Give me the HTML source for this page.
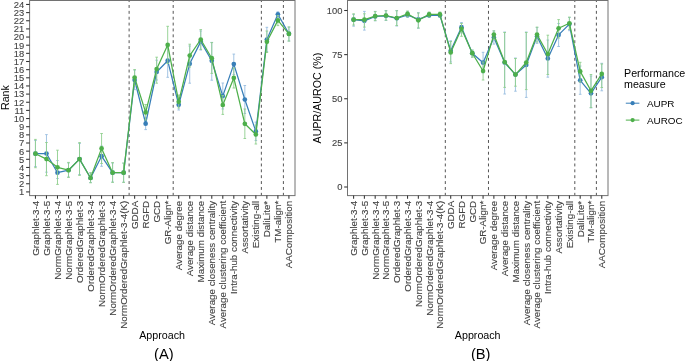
<!DOCTYPE html>
<html><head><meta charset="utf-8"><style>
html,body{margin:0;padding:0;background:#fff;width:685px;height:361px;overflow:hidden;}
svg{display:block;will-change:transform;}
text{font-family:"Liberation Sans",sans-serif;}
.tk{font-size:9.4px;fill:#444444;stroke:#444444;stroke-width:0.12px;}
.tx{font-size:9.8px;fill:#444444;stroke:#444444;stroke-width:0.12px;}
.tt{font-size:10.7px;fill:#000;}
.lg{font-size:9.9px;fill:#000;}
.pl{font-size:14.7px;fill:#000;}
</style></head><body>
<svg width="685" height="361" viewBox="0 0 685 361">
<rect width="685" height="361" fill="#fff"/>
<line x1="129.12" y1="-0.87" x2="129.12" y2="195.60" stroke="#555" stroke-width="1" stroke-dasharray="2.93 2.94"/>
<line x1="173.20" y1="-0.87" x2="173.20" y2="195.60" stroke="#555" stroke-width="1" stroke-dasharray="2.93 2.94"/>
<line x1="261.36" y1="-0.87" x2="261.36" y2="195.60" stroke="#555" stroke-width="1" stroke-dasharray="2.93 2.94"/>
<line x1="283.40" y1="-0.87" x2="283.40" y2="195.60" stroke="#555" stroke-width="1" stroke-dasharray="2.93 2.94"/>
<path d="M34.15 140.50H36.75M35.45 140.50V166.50M34.15 166.50H36.75" stroke="#98bde0" stroke-width="0.9" fill="none"/>
<path d="M45.17 134.60H47.77M46.47 134.60V172.20M45.17 172.20H47.77" stroke="#98bde0" stroke-width="0.9" fill="none"/>
<path d="M56.19 160.50H58.79M57.49 160.50V178.50M56.19 178.50H58.79" stroke="#98bde0" stroke-width="0.9" fill="none"/>
<path d="M67.21 163.00H69.81M68.51 163.00V177.00M67.21 177.00H69.81" stroke="#98bde0" stroke-width="0.9" fill="none"/>
<path d="M78.23 143.50H80.83M79.53 143.50V174.50M78.23 174.50H80.83" stroke="#98bde0" stroke-width="0.9" fill="none"/>
<path d="M89.25 173.00H91.85M90.55 173.00V182.50M89.25 182.50H91.85" stroke="#98bde0" stroke-width="0.9" fill="none"/>
<path d="M100.27 146.00H102.87M101.57 146.00V166.30M100.27 166.30H102.87" stroke="#98bde0" stroke-width="0.9" fill="none"/>
<path d="M111.29 163.00H113.89M112.59 163.00V182.00M111.29 182.00H113.89" stroke="#98bde0" stroke-width="0.9" fill="none"/>
<path d="M122.31 163.20H124.91M123.61 163.20V182.20M122.31 182.20H124.91" stroke="#98bde0" stroke-width="0.9" fill="none"/>
<path d="M133.33 70.10H135.93M134.63 70.10V89.70M133.33 89.70H135.93" stroke="#98bde0" stroke-width="0.9" fill="none"/>
<path d="M144.35 117.50H146.95M145.65 117.50V129.60M144.35 129.60H146.95" stroke="#98bde0" stroke-width="0.9" fill="none"/>
<path d="M155.37 60.20H157.97M156.67 60.20V80.00M155.37 80.00H157.97" stroke="#98bde0" stroke-width="0.9" fill="none"/>
<path d="M166.39 44.00H168.99M167.69 44.00V77.30M166.39 77.30H168.99" stroke="#98bde0" stroke-width="0.9" fill="none"/>
<path d="M177.41 98.00H180.01M178.71 98.00V110.00M177.41 110.00H180.01" stroke="#98bde0" stroke-width="0.9" fill="none"/>
<path d="M188.43 46.00H191.03M189.73 46.00V83.20M188.43 83.20H191.03" stroke="#98bde0" stroke-width="0.9" fill="none"/>
<path d="M199.45 31.00H202.05M200.75 31.00V50.00M199.45 50.00H202.05" stroke="#98bde0" stroke-width="0.9" fill="none"/>
<path d="M210.47 42.40H213.07M211.77 42.40V80.20M210.47 80.20H213.07" stroke="#98bde0" stroke-width="0.9" fill="none"/>
<path d="M221.49 83.00H224.09M222.79 83.00V109.00M221.49 109.00H224.09" stroke="#98bde0" stroke-width="0.9" fill="none"/>
<path d="M232.51 54.10H235.11M233.81 54.10V74.50M232.51 74.50H235.11" stroke="#98bde0" stroke-width="0.9" fill="none"/>
<path d="M243.53 85.50H246.13M244.83 85.50V113.50M243.53 113.50H246.13" stroke="#98bde0" stroke-width="0.9" fill="none"/>
<path d="M254.55 122.10H257.15M255.85 122.10V140.50M254.55 140.50H257.15" stroke="#98bde0" stroke-width="0.9" fill="none"/>
<path d="M265.57 27.30H268.17M266.87 27.30V51.50M265.57 51.50H268.17" stroke="#98bde0" stroke-width="0.9" fill="none"/>
<path d="M276.59 11.80H279.19M277.89 11.80V17.50M276.59 17.50H279.19" stroke="#98bde0" stroke-width="0.9" fill="none"/>
<path d="M287.61 27.00H290.21M288.91 27.00V41.00M287.61 41.00H290.21" stroke="#98bde0" stroke-width="0.9" fill="none"/>
<polyline points="35.45,153.70 46.47,153.50 57.49,172.70 68.51,170.20 79.53,159.10 90.55,178.00 101.57,156.20 112.59,172.70 123.61,172.70 134.63,80.00 145.65,123.70 156.67,72.00 167.69,60.70 178.71,104.80 189.73,63.80 200.75,41.60 211.77,60.80 222.79,96.10 233.81,64.10 244.83,99.50 255.85,131.40 266.87,39.50 277.89,14.30 288.91,33.70" stroke="#377EB8" stroke-width="1.25" fill="none" stroke-linejoin="round"/>
<circle cx="35.45" cy="153.70" r="2.35" fill="#377EB8"/>
<circle cx="46.47" cy="153.50" r="2.35" fill="#377EB8"/>
<circle cx="57.49" cy="172.70" r="2.35" fill="#377EB8"/>
<circle cx="68.51" cy="170.20" r="2.35" fill="#377EB8"/>
<circle cx="79.53" cy="159.10" r="2.35" fill="#377EB8"/>
<circle cx="90.55" cy="178.00" r="2.35" fill="#377EB8"/>
<circle cx="101.57" cy="156.20" r="2.35" fill="#377EB8"/>
<circle cx="112.59" cy="172.70" r="2.35" fill="#377EB8"/>
<circle cx="123.61" cy="172.70" r="2.35" fill="#377EB8"/>
<circle cx="134.63" cy="80.00" r="2.35" fill="#377EB8"/>
<circle cx="145.65" cy="123.70" r="2.35" fill="#377EB8"/>
<circle cx="156.67" cy="72.00" r="2.35" fill="#377EB8"/>
<circle cx="167.69" cy="60.70" r="2.35" fill="#377EB8"/>
<circle cx="178.71" cy="104.80" r="2.35" fill="#377EB8"/>
<circle cx="189.73" cy="63.80" r="2.35" fill="#377EB8"/>
<circle cx="200.75" cy="41.60" r="2.35" fill="#377EB8"/>
<circle cx="211.77" cy="60.80" r="2.35" fill="#377EB8"/>
<circle cx="222.79" cy="96.10" r="2.35" fill="#377EB8"/>
<circle cx="233.81" cy="64.10" r="2.35" fill="#377EB8"/>
<circle cx="244.83" cy="99.50" r="2.35" fill="#377EB8"/>
<circle cx="255.85" cy="131.40" r="2.35" fill="#377EB8"/>
<circle cx="266.87" cy="39.50" r="2.35" fill="#377EB8"/>
<circle cx="277.89" cy="14.30" r="2.35" fill="#377EB8"/>
<circle cx="288.91" cy="33.70" r="2.35" fill="#377EB8"/>
<path d="M34.15 139.40H36.75M35.45 139.40V167.70M34.15 167.70H36.75" stroke="#8fcf8d" stroke-width="0.9" fill="none"/>
<path d="M45.17 142.50H47.77M46.47 142.50V175.70M45.17 175.70H47.77" stroke="#8fcf8d" stroke-width="0.9" fill="none"/>
<path d="M56.19 150.20H58.79M57.49 150.20V184.40M56.19 184.40H58.79" stroke="#8fcf8d" stroke-width="0.9" fill="none"/>
<path d="M67.21 162.40H69.81M68.51 162.40V177.40M67.21 177.40H69.81" stroke="#8fcf8d" stroke-width="0.9" fill="none"/>
<path d="M78.23 142.60H80.83M79.53 142.60V175.40M78.23 175.40H80.83" stroke="#8fcf8d" stroke-width="0.9" fill="none"/>
<path d="M89.25 172.70H91.85M90.55 172.70V182.80M89.25 182.80H91.85" stroke="#8fcf8d" stroke-width="0.9" fill="none"/>
<path d="M100.27 133.50H102.87M101.57 133.50V163.50M100.27 163.50H102.87" stroke="#8fcf8d" stroke-width="0.9" fill="none"/>
<path d="M111.29 162.60H113.89M112.59 162.60V182.40M111.29 182.40H113.89" stroke="#8fcf8d" stroke-width="0.9" fill="none"/>
<path d="M122.31 163.00H124.91M123.61 163.00V182.40M122.31 182.40H124.91" stroke="#8fcf8d" stroke-width="0.9" fill="none"/>
<path d="M133.33 69.60H135.93M134.63 69.60V85.50M133.33 85.50H135.93" stroke="#8fcf8d" stroke-width="0.9" fill="none"/>
<path d="M144.35 104.50H146.95M145.65 104.50V120.00M144.35 120.00H146.95" stroke="#8fcf8d" stroke-width="0.9" fill="none"/>
<path d="M155.37 57.20H157.97M156.67 57.20V83.20M155.37 83.20H157.97" stroke="#8fcf8d" stroke-width="0.9" fill="none"/>
<path d="M166.39 26.30H168.99M167.69 26.30V63.50M166.39 63.50H168.99" stroke="#8fcf8d" stroke-width="0.9" fill="none"/>
<path d="M177.41 95.00H180.01M178.71 95.00V108.00M177.41 108.00H180.01" stroke="#8fcf8d" stroke-width="0.9" fill="none"/>
<path d="M188.43 44.20H191.03M189.73 44.20V67.00M188.43 67.00H191.03" stroke="#8fcf8d" stroke-width="0.9" fill="none"/>
<path d="M199.45 29.60H202.05M200.75 29.60V49.40M199.45 49.40H202.05" stroke="#8fcf8d" stroke-width="0.9" fill="none"/>
<path d="M210.47 42.60H213.07M211.77 42.60V73.40M210.47 73.40H213.07" stroke="#8fcf8d" stroke-width="0.9" fill="none"/>
<path d="M221.49 95.50H224.09M222.79 95.50V114.40M221.49 114.40H224.09" stroke="#8fcf8d" stroke-width="0.9" fill="none"/>
<path d="M232.51 68.00H235.11M233.81 68.00V88.00M232.51 88.00H235.11" stroke="#8fcf8d" stroke-width="0.9" fill="none"/>
<path d="M243.53 109.00H246.13M244.83 109.00V138.50M243.53 138.50H246.13" stroke="#8fcf8d" stroke-width="0.9" fill="none"/>
<path d="M254.55 125.00H257.15M255.85 125.00V144.00M254.55 144.00H257.15" stroke="#8fcf8d" stroke-width="0.9" fill="none"/>
<path d="M265.57 31.00H268.17M266.87 31.00V52.50M265.57 52.50H268.17" stroke="#8fcf8d" stroke-width="0.9" fill="none"/>
<path d="M276.59 15.50H279.19M277.89 15.50V25.60M276.59 25.60H279.19" stroke="#8fcf8d" stroke-width="0.9" fill="none"/>
<path d="M287.61 27.00H290.21M288.91 27.00V41.10M287.61 41.10H290.21" stroke="#8fcf8d" stroke-width="0.9" fill="none"/>
<polyline points="35.45,153.70 46.47,159.10 57.49,167.30 68.51,170.20 79.53,159.10 90.55,178.00 101.57,148.40 112.59,172.70 123.61,172.70 134.63,77.50 145.65,112.40 156.67,69.00 167.69,44.90 178.71,101.80 189.73,55.60 200.75,39.50 211.77,58.20 222.79,105.00 233.81,77.90 244.83,123.80 255.85,134.50 266.87,41.80 277.89,20.40 288.91,33.90" stroke="#4DAF4A" stroke-width="1.25" fill="none" stroke-linejoin="round"/>
<circle cx="35.45" cy="153.70" r="2.35" fill="#4DAF4A"/>
<circle cx="46.47" cy="159.10" r="2.35" fill="#4DAF4A"/>
<circle cx="57.49" cy="167.30" r="2.35" fill="#4DAF4A"/>
<circle cx="68.51" cy="170.20" r="2.35" fill="#4DAF4A"/>
<circle cx="79.53" cy="159.10" r="2.35" fill="#4DAF4A"/>
<circle cx="90.55" cy="178.00" r="2.35" fill="#4DAF4A"/>
<circle cx="101.57" cy="148.40" r="2.35" fill="#4DAF4A"/>
<circle cx="112.59" cy="172.70" r="2.35" fill="#4DAF4A"/>
<circle cx="123.61" cy="172.70" r="2.35" fill="#4DAF4A"/>
<circle cx="134.63" cy="77.50" r="2.35" fill="#4DAF4A"/>
<circle cx="145.65" cy="112.40" r="2.35" fill="#4DAF4A"/>
<circle cx="156.67" cy="69.00" r="2.35" fill="#4DAF4A"/>
<circle cx="167.69" cy="44.90" r="2.35" fill="#4DAF4A"/>
<circle cx="178.71" cy="101.80" r="2.35" fill="#4DAF4A"/>
<circle cx="189.73" cy="55.60" r="2.35" fill="#4DAF4A"/>
<circle cx="200.75" cy="39.50" r="2.35" fill="#4DAF4A"/>
<circle cx="211.77" cy="58.20" r="2.35" fill="#4DAF4A"/>
<circle cx="222.79" cy="105.00" r="2.35" fill="#4DAF4A"/>
<circle cx="233.81" cy="77.90" r="2.35" fill="#4DAF4A"/>
<circle cx="244.83" cy="123.80" r="2.35" fill="#4DAF4A"/>
<circle cx="255.85" cy="134.50" r="2.35" fill="#4DAF4A"/>
<circle cx="266.87" cy="41.80" r="2.35" fill="#4DAF4A"/>
<circle cx="277.89" cy="20.40" r="2.35" fill="#4DAF4A"/>
<circle cx="288.91" cy="33.90" r="2.35" fill="#4DAF4A"/>
<rect x="29.6" y="0.5" width="265.40" height="195.10" fill="none" stroke="#727272" stroke-width="1"/>
<line x1="26.1" y1="191.90" x2="29.6" y2="191.90" stroke="#333333" stroke-width="1.07"/>
<text x="24.2" y="195.25" text-anchor="end" class="tk">1</text>
<line x1="26.1" y1="183.75" x2="29.6" y2="183.75" stroke="#333333" stroke-width="1.07"/>
<text x="24.2" y="187.10" text-anchor="end" class="tk">2</text>
<line x1="26.1" y1="175.60" x2="29.6" y2="175.60" stroke="#333333" stroke-width="1.07"/>
<text x="24.2" y="178.95" text-anchor="end" class="tk">3</text>
<line x1="26.1" y1="167.45" x2="29.6" y2="167.45" stroke="#333333" stroke-width="1.07"/>
<text x="24.2" y="170.80" text-anchor="end" class="tk">4</text>
<line x1="26.1" y1="159.30" x2="29.6" y2="159.30" stroke="#333333" stroke-width="1.07"/>
<text x="24.2" y="162.65" text-anchor="end" class="tk">5</text>
<line x1="26.1" y1="151.15" x2="29.6" y2="151.15" stroke="#333333" stroke-width="1.07"/>
<text x="24.2" y="154.50" text-anchor="end" class="tk">6</text>
<line x1="26.1" y1="143.00" x2="29.6" y2="143.00" stroke="#333333" stroke-width="1.07"/>
<text x="24.2" y="146.35" text-anchor="end" class="tk">7</text>
<line x1="26.1" y1="134.85" x2="29.6" y2="134.85" stroke="#333333" stroke-width="1.07"/>
<text x="24.2" y="138.20" text-anchor="end" class="tk">8</text>
<line x1="26.1" y1="126.70" x2="29.6" y2="126.70" stroke="#333333" stroke-width="1.07"/>
<text x="24.2" y="130.05" text-anchor="end" class="tk">9</text>
<line x1="26.1" y1="118.55" x2="29.6" y2="118.55" stroke="#333333" stroke-width="1.07"/>
<text x="24.2" y="121.90" text-anchor="end" class="tk">10</text>
<line x1="26.1" y1="110.40" x2="29.6" y2="110.40" stroke="#333333" stroke-width="1.07"/>
<text x="24.2" y="113.75" text-anchor="end" class="tk">11</text>
<line x1="26.1" y1="102.25" x2="29.6" y2="102.25" stroke="#333333" stroke-width="1.07"/>
<text x="24.2" y="105.60" text-anchor="end" class="tk">12</text>
<line x1="26.1" y1="94.10" x2="29.6" y2="94.10" stroke="#333333" stroke-width="1.07"/>
<text x="24.2" y="97.45" text-anchor="end" class="tk">13</text>
<line x1="26.1" y1="85.95" x2="29.6" y2="85.95" stroke="#333333" stroke-width="1.07"/>
<text x="24.2" y="89.30" text-anchor="end" class="tk">14</text>
<line x1="26.1" y1="77.80" x2="29.6" y2="77.80" stroke="#333333" stroke-width="1.07"/>
<text x="24.2" y="81.15" text-anchor="end" class="tk">15</text>
<line x1="26.1" y1="69.65" x2="29.6" y2="69.65" stroke="#333333" stroke-width="1.07"/>
<text x="24.2" y="73.00" text-anchor="end" class="tk">16</text>
<line x1="26.1" y1="61.50" x2="29.6" y2="61.50" stroke="#333333" stroke-width="1.07"/>
<text x="24.2" y="64.85" text-anchor="end" class="tk">17</text>
<line x1="26.1" y1="53.35" x2="29.6" y2="53.35" stroke="#333333" stroke-width="1.07"/>
<text x="24.2" y="56.70" text-anchor="end" class="tk">18</text>
<line x1="26.1" y1="45.20" x2="29.6" y2="45.20" stroke="#333333" stroke-width="1.07"/>
<text x="24.2" y="48.55" text-anchor="end" class="tk">19</text>
<line x1="26.1" y1="37.05" x2="29.6" y2="37.05" stroke="#333333" stroke-width="1.07"/>
<text x="24.2" y="40.40" text-anchor="end" class="tk">20</text>
<line x1="26.1" y1="28.90" x2="29.6" y2="28.90" stroke="#333333" stroke-width="1.07"/>
<text x="24.2" y="32.25" text-anchor="end" class="tk">21</text>
<line x1="26.1" y1="20.75" x2="29.6" y2="20.75" stroke="#333333" stroke-width="1.07"/>
<text x="24.2" y="24.10" text-anchor="end" class="tk">22</text>
<line x1="26.1" y1="12.60" x2="29.6" y2="12.60" stroke="#333333" stroke-width="1.07"/>
<text x="24.2" y="15.95" text-anchor="end" class="tk">23</text>
<line x1="26.1" y1="4.45" x2="29.6" y2="4.45" stroke="#333333" stroke-width="1.07"/>
<text x="24.2" y="7.80" text-anchor="end" class="tk">24</text>
<line x1="35.45" y1="195.6" x2="35.45" y2="198.7" stroke="#333333" stroke-width="1.07"/>
<text transform="translate(38.85,200.8) rotate(-90)" text-anchor="end" class="tx">Graphlet-3-4</text>
<line x1="46.47" y1="195.6" x2="46.47" y2="198.7" stroke="#333333" stroke-width="1.07"/>
<text transform="translate(49.87,200.8) rotate(-90)" text-anchor="end" class="tx">Graphlet-3-5</text>
<line x1="57.49" y1="195.6" x2="57.49" y2="198.7" stroke="#333333" stroke-width="1.07"/>
<text transform="translate(60.89,200.8) rotate(-90)" text-anchor="end" class="tx">NormGraphlet-3-4</text>
<line x1="68.51" y1="195.6" x2="68.51" y2="198.7" stroke="#333333" stroke-width="1.07"/>
<text transform="translate(71.91,200.8) rotate(-90)" text-anchor="end" class="tx">NormGraphlet-3-5</text>
<line x1="79.53" y1="195.6" x2="79.53" y2="198.7" stroke="#333333" stroke-width="1.07"/>
<text transform="translate(82.93,200.8) rotate(-90)" text-anchor="end" class="tx">OrderedGraphlet-3</text>
<line x1="90.55" y1="195.6" x2="90.55" y2="198.7" stroke="#333333" stroke-width="1.07"/>
<text transform="translate(93.95,200.8) rotate(-90)" text-anchor="end" class="tx">OrderedGraphlet-3-4</text>
<line x1="101.57" y1="195.6" x2="101.57" y2="198.7" stroke="#333333" stroke-width="1.07"/>
<text transform="translate(104.97,200.8) rotate(-90)" text-anchor="end" class="tx">NormOrderedGraphlet-3</text>
<line x1="112.59" y1="195.6" x2="112.59" y2="198.7" stroke="#333333" stroke-width="1.07"/>
<text transform="translate(115.99,200.8) rotate(-90)" text-anchor="end" class="tx">NormOrderedGraphlet-3-4</text>
<line x1="123.61" y1="195.6" x2="123.61" y2="198.7" stroke="#333333" stroke-width="1.07"/>
<text transform="translate(127.01,200.8) rotate(-90)" text-anchor="end" class="tx">NormOrderedGraphlet-3-4(K)</text>
<line x1="134.63" y1="195.6" x2="134.63" y2="198.7" stroke="#333333" stroke-width="1.07"/>
<text transform="translate(138.03,200.8) rotate(-90)" text-anchor="end" class="tx">GDDA</text>
<line x1="145.65" y1="195.6" x2="145.65" y2="198.7" stroke="#333333" stroke-width="1.07"/>
<text transform="translate(149.05,200.8) rotate(-90)" text-anchor="end" class="tx">RGFD</text>
<line x1="156.67" y1="195.6" x2="156.67" y2="198.7" stroke="#333333" stroke-width="1.07"/>
<text transform="translate(160.07,200.8) rotate(-90)" text-anchor="end" class="tx">GCD</text>
<line x1="167.69" y1="195.6" x2="167.69" y2="198.7" stroke="#333333" stroke-width="1.07"/>
<text transform="translate(171.09,200.8) rotate(-90)" text-anchor="end" class="tx">GR-Align*</text>
<line x1="178.71" y1="195.6" x2="178.71" y2="198.7" stroke="#333333" stroke-width="1.07"/>
<text transform="translate(182.11,200.8) rotate(-90)" text-anchor="end" class="tx">Average degree</text>
<line x1="189.73" y1="195.6" x2="189.73" y2="198.7" stroke="#333333" stroke-width="1.07"/>
<text transform="translate(193.13,200.8) rotate(-90)" text-anchor="end" class="tx">Average distance</text>
<line x1="200.75" y1="195.6" x2="200.75" y2="198.7" stroke="#333333" stroke-width="1.07"/>
<text transform="translate(204.15,200.8) rotate(-90)" text-anchor="end" class="tx">Maximum distance</text>
<line x1="211.77" y1="195.6" x2="211.77" y2="198.7" stroke="#333333" stroke-width="1.07"/>
<text transform="translate(215.17,200.8) rotate(-90)" text-anchor="end" class="tx">Average closeness centrality</text>
<line x1="222.79" y1="195.6" x2="222.79" y2="198.7" stroke="#333333" stroke-width="1.07"/>
<text transform="translate(226.19,200.8) rotate(-90)" text-anchor="end" class="tx">Average clustering coefficient</text>
<line x1="233.81" y1="195.6" x2="233.81" y2="198.7" stroke="#333333" stroke-width="1.07"/>
<text transform="translate(237.21,200.8) rotate(-90)" text-anchor="end" class="tx">Intra-hub connectivity</text>
<line x1="244.83" y1="195.6" x2="244.83" y2="198.7" stroke="#333333" stroke-width="1.07"/>
<text transform="translate(248.23,200.8) rotate(-90)" text-anchor="end" class="tx">Assortativity</text>
<line x1="255.85" y1="195.6" x2="255.85" y2="198.7" stroke="#333333" stroke-width="1.07"/>
<text transform="translate(259.25,200.8) rotate(-90)" text-anchor="end" class="tx">Existing-all</text>
<line x1="266.87" y1="195.6" x2="266.87" y2="198.7" stroke="#333333" stroke-width="1.07"/>
<text transform="translate(270.27,200.8) rotate(-90)" text-anchor="end" class="tx">DaliLite*</text>
<line x1="277.89" y1="195.6" x2="277.89" y2="198.7" stroke="#333333" stroke-width="1.07"/>
<text transform="translate(281.29,200.8) rotate(-90)" text-anchor="end" class="tx">TM-align*</text>
<line x1="288.91" y1="195.6" x2="288.91" y2="198.7" stroke="#333333" stroke-width="1.07"/>
<text transform="translate(292.31,200.8) rotate(-90)" text-anchor="end" class="tx">AAComposition</text>
<line x1="445.32" y1="-0.87" x2="445.32" y2="195.60" stroke="#555" stroke-width="1" stroke-dasharray="2.93 2.94"/>
<line x1="488.48" y1="-0.87" x2="488.48" y2="195.60" stroke="#555" stroke-width="1" stroke-dasharray="2.93 2.94"/>
<line x1="574.80" y1="-0.87" x2="574.80" y2="195.60" stroke="#555" stroke-width="1" stroke-dasharray="2.93 2.94"/>
<line x1="596.38" y1="-0.87" x2="596.38" y2="195.60" stroke="#555" stroke-width="1" stroke-dasharray="2.93 2.94"/>
<path d="M352.30 14.50H354.90M353.60 14.50V26.20M352.30 26.20H354.90" stroke="#98bde0" stroke-width="0.9" fill="none"/>
<path d="M363.09 11.40H365.69M364.39 11.40V30.10M363.09 30.10H365.69" stroke="#98bde0" stroke-width="0.9" fill="none"/>
<path d="M373.88 11.40H376.48M375.18 11.40V20.80M373.88 20.80H376.48" stroke="#98bde0" stroke-width="0.9" fill="none"/>
<path d="M384.67 10.50H387.27M385.97 10.50V20.50M384.67 20.50H387.27" stroke="#98bde0" stroke-width="0.9" fill="none"/>
<path d="M395.46 10.50H398.06M396.76 10.50V26.00M395.46 26.00H398.06" stroke="#98bde0" stroke-width="0.9" fill="none"/>
<path d="M406.25 11.50H408.85M407.55 11.50V17.50M406.25 17.50H408.85" stroke="#98bde0" stroke-width="0.9" fill="none"/>
<path d="M417.04 12.70H419.64M418.34 12.70V28.20M417.04 28.20H419.64" stroke="#98bde0" stroke-width="0.9" fill="none"/>
<path d="M427.83 12.50H430.43M429.13 12.50V17.50M427.83 17.50H430.43" stroke="#98bde0" stroke-width="0.9" fill="none"/>
<path d="M438.62 12.50H441.22M439.92 12.50V17.50M438.62 17.50H441.22" stroke="#98bde0" stroke-width="0.9" fill="none"/>
<path d="M449.41 40.80H452.01M450.71 40.80V62.00M449.41 62.00H452.01" stroke="#98bde0" stroke-width="0.9" fill="none"/>
<path d="M460.20 22.50H462.80M461.50 22.50V33.00M460.20 33.00H462.80" stroke="#98bde0" stroke-width="0.9" fill="none"/>
<path d="M470.99 50.00H473.59M472.29 50.00V57.00M470.99 57.00H473.59" stroke="#98bde0" stroke-width="0.9" fill="none"/>
<path d="M481.78 52.30H484.38M483.08 52.30V73.00M481.78 73.00H484.38" stroke="#98bde0" stroke-width="0.9" fill="none"/>
<path d="M492.57 31.00H495.17M493.87 31.00V44.10M492.57 44.10H495.17" stroke="#98bde0" stroke-width="0.9" fill="none"/>
<path d="M503.36 32.00H505.96M504.66 32.00V94.00M503.36 94.00H505.96" stroke="#98bde0" stroke-width="0.9" fill="none"/>
<path d="M514.15 58.00H516.75M515.45 58.00V91.20M514.15 91.20H516.75" stroke="#98bde0" stroke-width="0.9" fill="none"/>
<path d="M524.94 32.00H527.54M526.24 32.00V97.40M524.94 97.40H527.54" stroke="#98bde0" stroke-width="0.9" fill="none"/>
<path d="M535.73 27.50H538.33M537.03 27.50V43.40M535.73 43.40H538.33" stroke="#98bde0" stroke-width="0.9" fill="none"/>
<path d="M546.52 40.00H549.12M547.82 40.00V77.20M546.52 77.20H549.12" stroke="#98bde0" stroke-width="0.9" fill="none"/>
<path d="M557.31 23.50H559.91M558.61 23.50V46.50M557.31 46.50H559.91" stroke="#98bde0" stroke-width="0.9" fill="none"/>
<path d="M568.10 17.50H570.70M569.40 17.50V30.70M568.10 30.70H570.70" stroke="#98bde0" stroke-width="0.9" fill="none"/>
<path d="M578.89 66.00H581.49M580.19 66.00V94.30M578.89 94.30H581.49" stroke="#98bde0" stroke-width="0.9" fill="none"/>
<path d="M589.68 76.00H592.28M590.98 76.00V107.90M589.68 107.90H592.28" stroke="#98bde0" stroke-width="0.9" fill="none"/>
<path d="M600.47 63.30H603.07M601.77 63.30V90.80M600.47 90.80H603.07" stroke="#98bde0" stroke-width="0.9" fill="none"/>
<polyline points="353.60,19.70 364.39,20.80 375.18,16.50 385.97,15.80 396.76,18.30 407.55,15.00 418.34,19.40 429.13,15.30 439.92,15.30 450.71,50.80 461.50,27.20 472.29,53.20 483.08,62.70 493.87,37.50 504.66,62.60 515.45,74.60 526.24,65.00 537.03,36.40 547.82,58.50 558.61,34.90 569.40,24.10 580.19,80.30 590.98,93.30 601.77,77.20" stroke="#377EB8" stroke-width="1.25" fill="none" stroke-linejoin="round"/>
<circle cx="353.60" cy="19.70" r="2.35" fill="#377EB8"/>
<circle cx="364.39" cy="20.80" r="2.35" fill="#377EB8"/>
<circle cx="375.18" cy="16.50" r="2.35" fill="#377EB8"/>
<circle cx="385.97" cy="15.80" r="2.35" fill="#377EB8"/>
<circle cx="396.76" cy="18.30" r="2.35" fill="#377EB8"/>
<circle cx="407.55" cy="15.00" r="2.35" fill="#377EB8"/>
<circle cx="418.34" cy="19.40" r="2.35" fill="#377EB8"/>
<circle cx="429.13" cy="15.30" r="2.35" fill="#377EB8"/>
<circle cx="439.92" cy="15.30" r="2.35" fill="#377EB8"/>
<circle cx="450.71" cy="50.80" r="2.35" fill="#377EB8"/>
<circle cx="461.50" cy="27.20" r="2.35" fill="#377EB8"/>
<circle cx="472.29" cy="53.20" r="2.35" fill="#377EB8"/>
<circle cx="483.08" cy="62.70" r="2.35" fill="#377EB8"/>
<circle cx="493.87" cy="37.50" r="2.35" fill="#377EB8"/>
<circle cx="504.66" cy="62.60" r="2.35" fill="#377EB8"/>
<circle cx="515.45" cy="74.60" r="2.35" fill="#377EB8"/>
<circle cx="526.24" cy="65.00" r="2.35" fill="#377EB8"/>
<circle cx="537.03" cy="36.40" r="2.35" fill="#377EB8"/>
<circle cx="547.82" cy="58.50" r="2.35" fill="#377EB8"/>
<circle cx="558.61" cy="34.90" r="2.35" fill="#377EB8"/>
<circle cx="569.40" cy="24.10" r="2.35" fill="#377EB8"/>
<circle cx="580.19" cy="80.30" r="2.35" fill="#377EB8"/>
<circle cx="590.98" cy="93.30" r="2.35" fill="#377EB8"/>
<circle cx="601.77" cy="77.20" r="2.35" fill="#377EB8"/>
<path d="M352.30 13.80H354.90M353.60 13.80V25.00M352.30 25.00H354.90" stroke="#8fcf8d" stroke-width="0.9" fill="none"/>
<path d="M363.09 13.80H365.69M364.39 13.80V27.10M363.09 27.10H365.69" stroke="#8fcf8d" stroke-width="0.9" fill="none"/>
<path d="M373.88 11.60H376.48M375.18 11.60V20.60M373.88 20.60H376.48" stroke="#8fcf8d" stroke-width="0.9" fill="none"/>
<path d="M384.67 10.80H387.27M385.97 10.80V20.20M384.67 20.20H387.27" stroke="#8fcf8d" stroke-width="0.9" fill="none"/>
<path d="M395.46 10.80H398.06M396.76 10.80V25.50M395.46 25.50H398.06" stroke="#8fcf8d" stroke-width="0.9" fill="none"/>
<path d="M406.25 11.00H408.85M407.55 11.00V16.80M406.25 16.80H408.85" stroke="#8fcf8d" stroke-width="0.9" fill="none"/>
<path d="M417.04 13.00H419.64M418.34 13.00V28.00M417.04 28.00H419.64" stroke="#8fcf8d" stroke-width="0.9" fill="none"/>
<path d="M427.83 12.00H430.43M429.13 12.00V17.00M427.83 17.00H430.43" stroke="#8fcf8d" stroke-width="0.9" fill="none"/>
<path d="M438.62 12.00H441.22M439.92 12.00V17.00M438.62 17.00H441.22" stroke="#8fcf8d" stroke-width="0.9" fill="none"/>
<path d="M449.41 41.50H452.01M450.71 41.50V63.60M449.41 63.60H452.01" stroke="#8fcf8d" stroke-width="0.9" fill="none"/>
<path d="M460.20 23.50H462.80M461.50 23.50V36.30M460.20 36.30H462.80" stroke="#8fcf8d" stroke-width="0.9" fill="none"/>
<path d="M470.99 50.20H473.59M472.29 50.20V57.20M470.99 57.20H473.59" stroke="#8fcf8d" stroke-width="0.9" fill="none"/>
<path d="M481.78 62.00H484.38M483.08 62.00V80.00M481.78 80.00H484.38" stroke="#8fcf8d" stroke-width="0.9" fill="none"/>
<path d="M492.57 30.80H495.17M493.87 30.80V39.50M492.57 39.50H495.17" stroke="#8fcf8d" stroke-width="0.9" fill="none"/>
<path d="M503.36 32.50H505.96M504.66 32.50V87.40M503.36 87.40H505.96" stroke="#8fcf8d" stroke-width="0.9" fill="none"/>
<path d="M514.15 58.50H516.75M515.45 58.50V86.20M514.15 86.20H516.75" stroke="#8fcf8d" stroke-width="0.9" fill="none"/>
<path d="M524.94 32.50H527.54M526.24 32.50V89.60M524.94 89.60H527.54" stroke="#8fcf8d" stroke-width="0.9" fill="none"/>
<path d="M535.73 27.10H538.33M537.03 27.10V42.00M535.73 42.00H538.33" stroke="#8fcf8d" stroke-width="0.9" fill="none"/>
<path d="M546.52 35.20H549.12M547.82 35.20V74.50M546.52 74.50H549.12" stroke="#8fcf8d" stroke-width="0.9" fill="none"/>
<path d="M557.31 19.60H559.91M558.61 19.60V38.00M557.31 38.00H559.91" stroke="#8fcf8d" stroke-width="0.9" fill="none"/>
<path d="M568.10 17.10H570.70M569.40 17.10V29.50M568.10 29.50H570.70" stroke="#8fcf8d" stroke-width="0.9" fill="none"/>
<path d="M578.89 62.30H581.49M580.19 62.30V82.00M578.89 82.00H581.49" stroke="#8fcf8d" stroke-width="0.9" fill="none"/>
<path d="M589.68 74.50H592.28M590.98 74.50V107.50M589.68 107.50H592.28" stroke="#8fcf8d" stroke-width="0.9" fill="none"/>
<path d="M600.47 64.00H603.07M601.77 64.00V87.50M600.47 87.50H603.07" stroke="#8fcf8d" stroke-width="0.9" fill="none"/>
<polyline points="353.60,19.70 364.39,19.70 375.18,16.10 385.97,15.50 396.76,18.00 407.55,13.80 418.34,20.30 429.13,14.40 439.92,14.40 450.71,52.40 461.50,28.80 472.29,53.20 483.08,71.00 493.87,34.60 504.66,62.00 515.45,74.60 526.24,62.50 537.03,34.60 547.82,54.00 558.61,28.30 569.40,23.30 580.19,71.40 590.98,90.80 601.77,73.90" stroke="#4DAF4A" stroke-width="1.25" fill="none" stroke-linejoin="round"/>
<circle cx="353.60" cy="19.70" r="2.35" fill="#4DAF4A"/>
<circle cx="364.39" cy="19.70" r="2.35" fill="#4DAF4A"/>
<circle cx="375.18" cy="16.10" r="2.35" fill="#4DAF4A"/>
<circle cx="385.97" cy="15.50" r="2.35" fill="#4DAF4A"/>
<circle cx="396.76" cy="18.00" r="2.35" fill="#4DAF4A"/>
<circle cx="407.55" cy="13.80" r="2.35" fill="#4DAF4A"/>
<circle cx="418.34" cy="20.30" r="2.35" fill="#4DAF4A"/>
<circle cx="429.13" cy="14.40" r="2.35" fill="#4DAF4A"/>
<circle cx="439.92" cy="14.40" r="2.35" fill="#4DAF4A"/>
<circle cx="450.71" cy="52.40" r="2.35" fill="#4DAF4A"/>
<circle cx="461.50" cy="28.80" r="2.35" fill="#4DAF4A"/>
<circle cx="472.29" cy="53.20" r="2.35" fill="#4DAF4A"/>
<circle cx="483.08" cy="71.00" r="2.35" fill="#4DAF4A"/>
<circle cx="493.87" cy="34.60" r="2.35" fill="#4DAF4A"/>
<circle cx="504.66" cy="62.00" r="2.35" fill="#4DAF4A"/>
<circle cx="515.45" cy="74.60" r="2.35" fill="#4DAF4A"/>
<circle cx="526.24" cy="62.50" r="2.35" fill="#4DAF4A"/>
<circle cx="537.03" cy="34.60" r="2.35" fill="#4DAF4A"/>
<circle cx="547.82" cy="54.00" r="2.35" fill="#4DAF4A"/>
<circle cx="558.61" cy="28.30" r="2.35" fill="#4DAF4A"/>
<circle cx="569.40" cy="23.30" r="2.35" fill="#4DAF4A"/>
<circle cx="580.19" cy="71.40" r="2.35" fill="#4DAF4A"/>
<circle cx="590.98" cy="90.80" r="2.35" fill="#4DAF4A"/>
<circle cx="601.77" cy="73.90" r="2.35" fill="#4DAF4A"/>
<rect x="347.5" y="0.5" width="260.50" height="195.10" fill="none" stroke="#727272" stroke-width="1"/>
<line x1="344.2" y1="187.00" x2="347.5" y2="187.00" stroke="#333333" stroke-width="1.07"/>
<text x="342.4" y="190.35" text-anchor="end" class="tk">0</text>
<line x1="344.2" y1="142.88" x2="347.5" y2="142.88" stroke="#333333" stroke-width="1.07"/>
<text x="342.4" y="146.22" text-anchor="end" class="tk">25</text>
<line x1="344.2" y1="98.75" x2="347.5" y2="98.75" stroke="#333333" stroke-width="1.07"/>
<text x="342.4" y="102.10" text-anchor="end" class="tk">50</text>
<line x1="344.2" y1="54.62" x2="347.5" y2="54.62" stroke="#333333" stroke-width="1.07"/>
<text x="342.4" y="57.98" text-anchor="end" class="tk">75</text>
<line x1="344.2" y1="10.50" x2="347.5" y2="10.50" stroke="#333333" stroke-width="1.07"/>
<text x="342.4" y="13.85" text-anchor="end" class="tk">100</text>
<line x1="353.60" y1="195.6" x2="353.60" y2="198.7" stroke="#333333" stroke-width="1.07"/>
<text transform="translate(357.00,200.8) rotate(-90)" text-anchor="end" class="tx">Graphlet-3-4</text>
<line x1="364.39" y1="195.6" x2="364.39" y2="198.7" stroke="#333333" stroke-width="1.07"/>
<text transform="translate(367.79,200.8) rotate(-90)" text-anchor="end" class="tx">Graphlet-3-5</text>
<line x1="375.18" y1="195.6" x2="375.18" y2="198.7" stroke="#333333" stroke-width="1.07"/>
<text transform="translate(378.58,200.8) rotate(-90)" text-anchor="end" class="tx">NormGraphlet-3-4</text>
<line x1="385.97" y1="195.6" x2="385.97" y2="198.7" stroke="#333333" stroke-width="1.07"/>
<text transform="translate(389.37,200.8) rotate(-90)" text-anchor="end" class="tx">NormGraphlet-3-5</text>
<line x1="396.76" y1="195.6" x2="396.76" y2="198.7" stroke="#333333" stroke-width="1.07"/>
<text transform="translate(400.16,200.8) rotate(-90)" text-anchor="end" class="tx">OrderedGraphlet-3</text>
<line x1="407.55" y1="195.6" x2="407.55" y2="198.7" stroke="#333333" stroke-width="1.07"/>
<text transform="translate(410.95,200.8) rotate(-90)" text-anchor="end" class="tx">OrderedGraphlet-3-4</text>
<line x1="418.34" y1="195.6" x2="418.34" y2="198.7" stroke="#333333" stroke-width="1.07"/>
<text transform="translate(421.74,200.8) rotate(-90)" text-anchor="end" class="tx">NormOrderedGraphlet-3</text>
<line x1="429.13" y1="195.6" x2="429.13" y2="198.7" stroke="#333333" stroke-width="1.07"/>
<text transform="translate(432.53,200.8) rotate(-90)" text-anchor="end" class="tx">NormOrderedGraphlet-3-4</text>
<line x1="439.92" y1="195.6" x2="439.92" y2="198.7" stroke="#333333" stroke-width="1.07"/>
<text transform="translate(443.32,200.8) rotate(-90)" text-anchor="end" class="tx">NormOrderedGraphlet-3-4(K)</text>
<line x1="450.71" y1="195.6" x2="450.71" y2="198.7" stroke="#333333" stroke-width="1.07"/>
<text transform="translate(454.11,200.8) rotate(-90)" text-anchor="end" class="tx">GDDA</text>
<line x1="461.50" y1="195.6" x2="461.50" y2="198.7" stroke="#333333" stroke-width="1.07"/>
<text transform="translate(464.90,200.8) rotate(-90)" text-anchor="end" class="tx">RGFD</text>
<line x1="472.29" y1="195.6" x2="472.29" y2="198.7" stroke="#333333" stroke-width="1.07"/>
<text transform="translate(475.69,200.8) rotate(-90)" text-anchor="end" class="tx">GCD</text>
<line x1="483.08" y1="195.6" x2="483.08" y2="198.7" stroke="#333333" stroke-width="1.07"/>
<text transform="translate(486.48,200.8) rotate(-90)" text-anchor="end" class="tx">GR-Align*</text>
<line x1="493.87" y1="195.6" x2="493.87" y2="198.7" stroke="#333333" stroke-width="1.07"/>
<text transform="translate(497.27,200.8) rotate(-90)" text-anchor="end" class="tx">Average degree</text>
<line x1="504.66" y1="195.6" x2="504.66" y2="198.7" stroke="#333333" stroke-width="1.07"/>
<text transform="translate(508.06,200.8) rotate(-90)" text-anchor="end" class="tx">Average distance</text>
<line x1="515.45" y1="195.6" x2="515.45" y2="198.7" stroke="#333333" stroke-width="1.07"/>
<text transform="translate(518.85,200.8) rotate(-90)" text-anchor="end" class="tx">Maximum distance</text>
<line x1="526.24" y1="195.6" x2="526.24" y2="198.7" stroke="#333333" stroke-width="1.07"/>
<text transform="translate(529.64,200.8) rotate(-90)" text-anchor="end" class="tx">Average closeness centrality</text>
<line x1="537.03" y1="195.6" x2="537.03" y2="198.7" stroke="#333333" stroke-width="1.07"/>
<text transform="translate(540.43,200.8) rotate(-90)" text-anchor="end" class="tx">Average clustering coefficient</text>
<line x1="547.82" y1="195.6" x2="547.82" y2="198.7" stroke="#333333" stroke-width="1.07"/>
<text transform="translate(551.22,200.8) rotate(-90)" text-anchor="end" class="tx">Intra-hub connectivity</text>
<line x1="558.61" y1="195.6" x2="558.61" y2="198.7" stroke="#333333" stroke-width="1.07"/>
<text transform="translate(562.01,200.8) rotate(-90)" text-anchor="end" class="tx">Assortativity</text>
<line x1="569.40" y1="195.6" x2="569.40" y2="198.7" stroke="#333333" stroke-width="1.07"/>
<text transform="translate(572.80,200.8) rotate(-90)" text-anchor="end" class="tx">Existing-all</text>
<line x1="580.19" y1="195.6" x2="580.19" y2="198.7" stroke="#333333" stroke-width="1.07"/>
<text transform="translate(583.59,200.8) rotate(-90)" text-anchor="end" class="tx">DaliLite*</text>
<line x1="590.98" y1="195.6" x2="590.98" y2="198.7" stroke="#333333" stroke-width="1.07"/>
<text transform="translate(594.38,200.8) rotate(-90)" text-anchor="end" class="tx">TM-align*</text>
<line x1="601.77" y1="195.6" x2="601.77" y2="198.7" stroke="#333333" stroke-width="1.07"/>
<text transform="translate(605.17,200.8) rotate(-90)" text-anchor="end" class="tx">AAComposition</text>
<text transform="translate(8.7,97.6) rotate(-90)" text-anchor="middle" class="tt">Rank</text>
<text transform="translate(321.1,98) rotate(-90)" text-anchor="middle" class="tt">AUPR/AUROC (%)</text>
<text x="162.1" y="338.8" text-anchor="middle" class="tt">Approach</text>
<text x="477.7" y="338.8" text-anchor="middle" class="tt">Approach</text>
<text x="163.9" y="358.8" text-anchor="middle" class="pl">(A)</text>
<text x="480.7" y="358.8" text-anchor="middle" class="pl">(B)</text>
<text x="624.0" y="76.9" class="tt">Performance</text>
<text x="624.0" y="88.0" class="tt">measure</text>
<line x1="625.8" y1="103.2" x2="639.4" y2="103.2" stroke="#377EB8" stroke-width="1.0"/>
<circle cx="632.6" cy="103.2" r="2.1" fill="#377EB8"/>
<line x1="625.8" y1="120.1" x2="639.4" y2="120.1" stroke="#4DAF4A" stroke-width="1.0"/>
<circle cx="632.6" cy="120.1" r="2.1" fill="#4DAF4A"/>
<text x="647.0" y="107.0" class="lg">AUPR</text>
<text x="647.0" y="124.0" class="lg">AUROC</text>
</svg>
</body></html>
